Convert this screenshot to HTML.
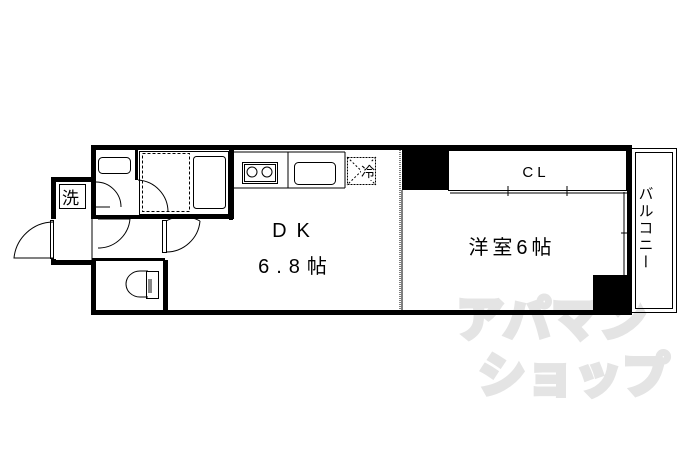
<!DOCTYPE html>
<html><head><meta charset="utf-8"><style>
html,body{margin:0;padding:0;background:#fff;width:690px;height:460px;overflow:hidden}
svg{display:block}
text{font-family:"Liberation Sans","Noto Sans CJK JP",sans-serif}
</style></head><body>
<svg width="690" height="460" viewBox="0 0 690 460" xmlns="http://www.w3.org/2000/svg">
<!-- watermark -->
<text x="456" y="336" font-size="48" font-weight="bold" fill="#e4e4e4" stroke="#e4e4e4" stroke-width="4" font-family="'Noto Sans CJK JP',sans-serif">アパマン</text>
<text x="478" y="392" font-size="48" font-weight="bold" fill="#e4e4e4" stroke="#e4e4e4" stroke-width="4" font-family="'Noto Sans CJK JP',sans-serif">ショップ</text>
<g fill="#000">
<rect x="91" y="145" width="541" height="5"/>
<rect x="91" y="310" width="541" height="5"/>
<rect x="91" y="145" width="5" height="74"/>
<rect x="51" y="177" width="45" height="5"/>
<rect x="51" y="177" width="5" height="42"/>
<rect x="51" y="259" width="5" height="6"/>
<rect x="51" y="260" width="45" height="5"/>
<rect x="91" y="260" width="5" height="55"/>
<rect x="91" y="215" width="143" height="4"/>
<rect x="229" y="145" width="5" height="74"/>
<rect x="135" y="150" width="3" height="30"/>
<rect x="163" y="260" width="5" height="55"/>
<rect x="92" y="258" width="73" height="3"/>
<rect x="229" y="190" width="4" height="30"/>
<rect x="402" y="150" width="46" height="40"/>
<rect x="593" y="275" width="35" height="37"/>
<rect x="627" y="145" width="4" height="170"/>
</g>
<g fill="none" stroke="#000" stroke-width="1">
<rect x="59.5" y="184.5" width="26" height="24"/>
<rect x="98.5" y="157.5" width="32" height="16" rx="4"/>
<line x1="96" y1="207" x2="110" y2="207"/>
<path d="M96 182 A25 25 0 0 1 121 207"/>
<rect x="139.5" y="151.5" width="89" height="63"/>
<rect x="142.5" y="153.5" width="47" height="58" stroke-dasharray="3,2"/>
<rect x="193.5" y="156.5" width="32" height="52" rx="3"/>
<path d="M138 180 A32 32 0 0 1 168 212"/>
<path d="M53 222 A40 40 0 0 0 14 258 L53 258"/>
<rect x="50.5" y="220.5" width="3" height="38"/>
<line x1="92" y1="219" x2="92" y2="262"/>
<path d="M98 219 L130 219 A32 32 0 0 1 100 248 L98 248"/>
<rect x="162.5" y="220.5" width="4" height="32"/>
<path d="M166 221 A34 34 0 0 1 200 221 M166 252 A34 34 0 0 0 200 221"/>
<path d="M148 271 L140 271 A14 13 0 0 0 140 297 L148 297"/>
<rect x="146.5" y="271.5" width="12" height="27"/>
<rect x="148" y="279" width="4" height="14" fill="#888" stroke="none"/>
<line x1="233" y1="152" x2="345" y2="152"/>
<line x1="233" y1="188" x2="345" y2="188"/>
<line x1="345" y1="152" x2="345" y2="188"/>
<line x1="288" y1="152" x2="288" y2="188"/>
<rect x="242.5" y="162.5" width="35" height="21"/>
<rect x="244.5" y="164.5" width="31" height="17"/>
<circle cx="252" cy="172" r="5"/>
<circle cx="267" cy="172" r="5"/>
<rect x="294.5" y="162.5" width="41" height="22" rx="4"/>
<rect x="347.5" y="157.5" width="28" height="27" stroke-dasharray="2,1"/>
<line x1="347" y1="157" x2="376" y2="185" stroke-dasharray="2,2"/>
<line x1="376" y1="157" x2="347" y2="185" stroke-dasharray="2,2"/>
<line x1="400" y1="150" x2="400" y2="310" stroke-dasharray="1,1"/>
<line x1="402" y1="190" x2="402" y2="310"/>
<rect x="448.5" y="150.5" width="178" height="40"/>
<line x1="450" y1="193" x2="627" y2="193"/>
<line x1="508" y1="186" x2="508" y2="196"/>
<line x1="567" y1="186" x2="567" y2="196"/>
<line x1="624" y1="192" x2="624" y2="275"/>
<line x1="621" y1="233" x2="632" y2="233"/>
<rect x="631.5" y="148.5" width="45" height="164"/>
<rect x="635.5" y="152.5" width="37" height="156"/>
</g>
<rect x="361" y="162" width="14" height="18" fill="#fff"/>
<text x="62" y="204" font-size="17">洗</text>
<text x="368" y="177" font-size="14" text-anchor="middle">冷</text>
<text x="536" y="177" font-size="15" letter-spacing="4" text-anchor="middle">CL</text>
<text x="296" y="237" font-size="20" letter-spacing="10" text-anchor="middle">DK</text>
<text x="296" y="273" font-size="20" letter-spacing="7" text-anchor="middle">6.8帖</text>
<text x="512" y="254" font-size="20" letter-spacing="4" text-anchor="middle">洋室6帖</text>
<text x="612" y="306" font-size="12">W</text>
<text x="645" y="186" font-size="15" writing-mode="tb" letter-spacing="2">バルコニー</text>
</svg>
</body></html>
